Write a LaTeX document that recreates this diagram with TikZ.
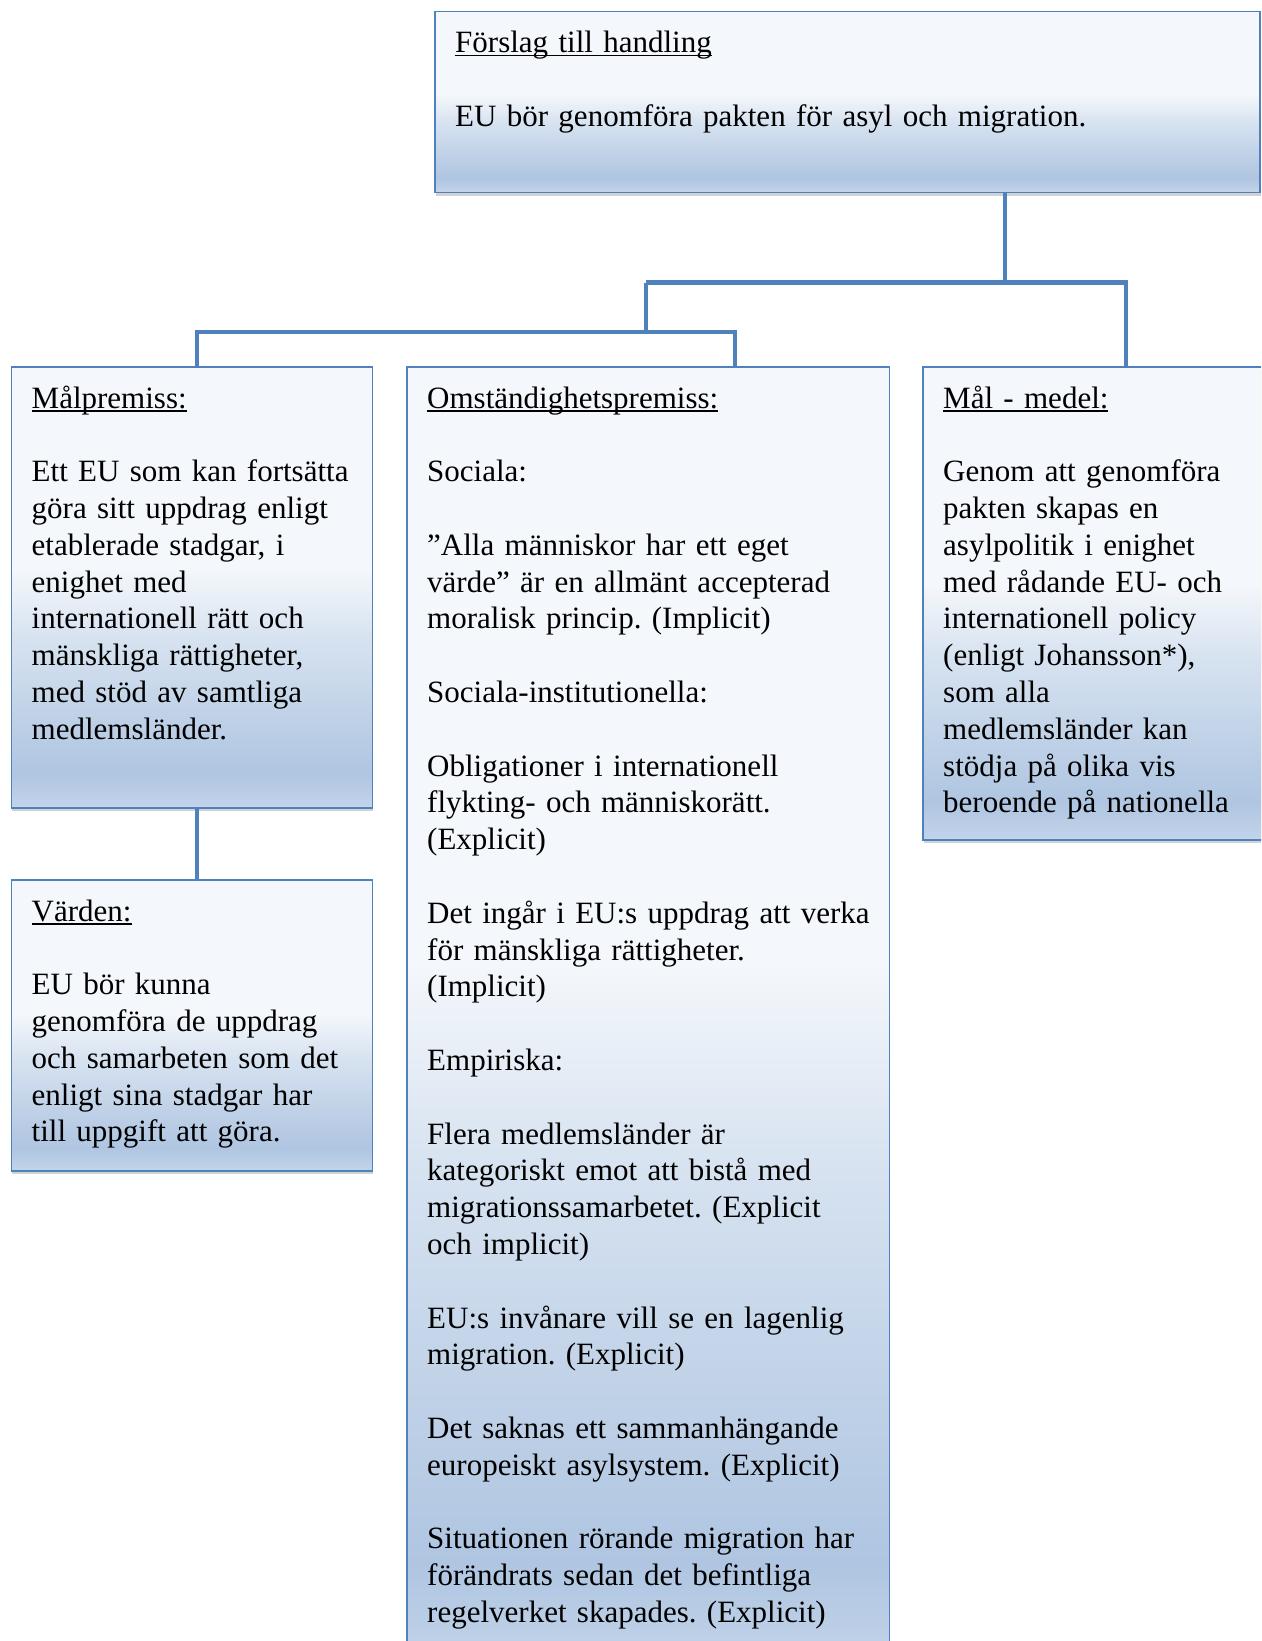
\documentclass[tikz,border=0pt]{standalone}
\usepackage{fontspec}
\setmainfont{Liberation Serif}
\usetikzlibrary{shadows}
\definecolor{frame}{HTML}{4F81BD}
\definecolor{wire}{HTML}{4F81BD}
\definecolor{shTop}{HTML}{F4F7FB}
\definecolor{shMid}{HTML}{D6E2F0}
\definecolor{shDeep}{HTML}{AFC5E1}
\definecolor{shBot}{HTML}{C3D4EA}
\pgfdeclareverticalshading{subtle}{100bp}{color(0bp)=(shBot); color(25bp)=(shBot);
  color(29bp)=(shDeep); color(44bp)=(shMid); color(52bp)=(shTop); color(75bp)=(shTop); color(100bp)=(shTop)}
\newcommand{\hd}[1]{\sbox0{#1}\rlap{\rule[-3.6pt]{\wd0}{1.5pt}}\usebox0}
\newcommand{\gap}{\\[\baselineskip]}
\frenchspacing

\begin{document}
\begin{tikzpicture}[x=1pt,y=-1pt,
  box/.style={draw=frame,line width=1.6pt,shading=subtle,anchor=north west,inner sep=0pt,
              drop shadow={shadow xshift=1pt,shadow yshift=-3.5pt,opacity=.35}},
  txt/.style={anchor=base west,inner sep=0pt,text width=900pt,align=left,
              font=\fontsize{31}{36.8}\selectfont},
  link/.style={wire,line width=4.2pt}]
\useasboundingbox (0,0) rectangle (1261,1641);
\clip (0,0) rectangle (1261,1641);
\fill[white] (0,0) rectangle (1261,1641);

% ---------------- connectors
\coordinate (hubTop) at (1004.6,282.5);
\coordinate (hubMid) at (645.7,282.5);
\coordinate (hubLow) at (645.7,331.7);
\coordinate (legL) at (196.7,331.7);
\coordinate (legM) at (734.6,331.7);

% ---------------- boxes
\node[box,minimum width=825pt,minimum height=181pt] (forslag) at (434,10.5) {};
\node[box,minimum width=361pt,minimum height=441pt] (malpremiss) at (10.5,366) {};
\node[box,minimum width=361pt,minimum height=291pt] (varden) at (10.5,879) {};
\node[box,minimum width=482.5pt,minimum height=1300pt] (omstand) at (406,366) {};
\node[box,minimum width=406pt,minimum height=473pt] (malmedel) at (922,366) {};

\draw[link] (hubTop |- forslag.south) -- (hubTop);
\draw[link] (hubMid) -- (hubTop) -| (malmedel.north);
\draw[link] (hubMid) -- (hubLow);
\draw[link] (legL |- malpremiss.north) -- (legL) -- (legM) -- (legM |- omstand.north);
\draw[link] (legL |- malpremiss.south) -- (legL |- varden.north);

% ---------------- texts
\node[txt] (forslagText) at ([shift={(21,42)}]forslag.north west)
  {\hd{Förslag till handling}\gap
   EU bör genomföra pakten för asyl och migration.};
\node[txt] (malpremissText) at ([shift={(21,42)}]malpremiss.north west)
  {\hd{Målpremiss:}\gap
   Ett EU som kan fortsätta\\ göra sitt uppdrag enligt\\ etablerade stadgar, i\\
   enighet med\\ internationell rätt och\\ mänskliga rättigheter,\\
   med stöd av samtliga\\ medlemsländer.};
\node[txt] (vardenText) at ([shift={(21,42)}]varden.north west)
  {\hd{Värden:}\gap
   EU bör kunna\\ genomföra de uppdrag\\ och samarbeten som det\\
   enligt sina stadgar har\\ till uppgift att göra.};
\node[txt] (omstandText) at ([shift={(21,42)}]omstand.north west)
  {\hd{Omständighetspremiss:}\gap
   Sociala:\gap
   ”Alla människor har ett eget\\ värde” är en allmänt accepterad\\ moralisk princip. (Implicit)\gap
   Sociala-institutionella:\gap
   Obligationer i internationell\\ flykting- och människorätt.\\ (Explicit)\gap
   Det ingår i EU:s uppdrag att verka\\ för mänskliga rättigheter.\\ (Implicit)\gap
   Empiriska:\gap
   Flera medlemsländer är\\ kategoriskt emot att bistå med\\ migrationssamarbetet. (Explicit\\ och implicit)\gap
   EU:s invånare vill se en lagenlig\\ migration. (Explicit)\gap
   Det saknas ett sammanhängande\\ europeiskt asylsystem. (Explicit)\gap
   Situationen rörande migration har\\ förändrats sedan det befintliga\\ regelverket skapades. (Explicit)};
\node[txt] (malmedelText) at ([shift={(21,42)}]malmedel.north west)
  {\hd{Mål - medel:}\gap
   Genom att genomföra\\ pakten skapas en\\ asylpolitik i enighet\\ med rådande EU- och\\
   internationell policy\\ (enligt Johansson*),\\ som alla\\ medlemsländer kan\\
   stödja på olika vis\\ beroende på nationella};
\end{tikzpicture}
\end{document}
